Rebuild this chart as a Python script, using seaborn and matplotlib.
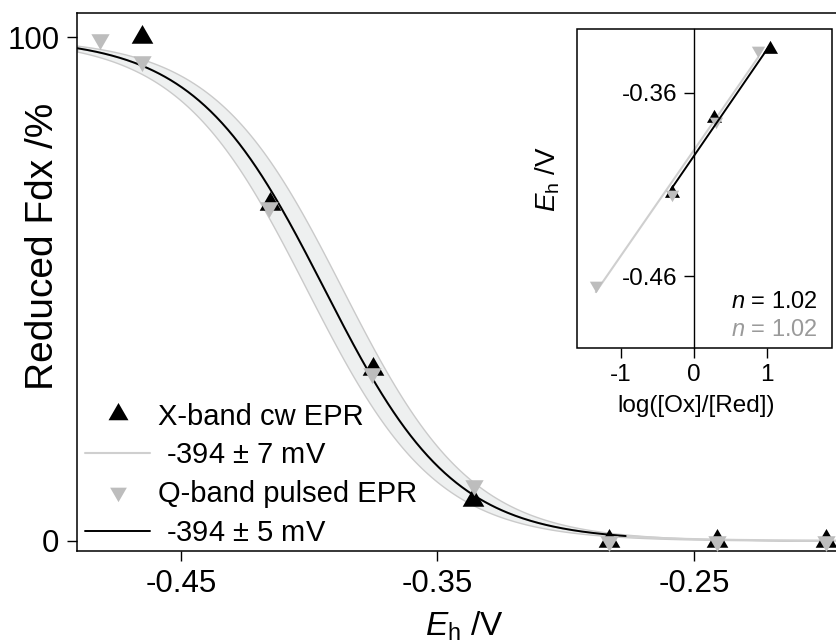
import numpy as np
import pandas as pd
import matplotlib
matplotlib.use("Agg")
import matplotlib.pyplot as plt
from matplotlib.lines import Line2D
from matplotlib.patches import Rectangle
import seaborn as sns

sns.set_style("white")
plt.rcParams["font.family"] = ["Liberation Sans", "DejaVu Sans"]
plt.rcParams["mathtext.fontset"] = "custom"
plt.rcParams["mathtext.rm"] = "Liberation Sans"
plt.rcParams["mathtext.it"] = "Liberation Sans:italic"
plt.rcParams["axes.unicode_minus"] = False
plt.rcParams["text.color"] = "black"
plt.rcParams["axes.labelcolor"] = "black"

# --- redox titration data: potential (V) vs reduced fraction (%) ---
E_xband = [-0.4652, -0.4152, -0.3752, -0.3360, -0.2830, -0.2412, -0.1985]
R_xband = [100.0, 67.0, 34.2, 8.1, 0.0, 0.0, 0.0]
E_qband = [-0.4814, -0.4650, -0.4156, -0.3754, -0.3357, -0.2830, -0.2412, -0.1985]
R_qband = [99.6, 95.3, 66.3, 33.3, 11.1, 0.0, 0.0, 0.0]

# Nernst fit parameters
E0 = -0.394          # midpoint potential (V)
dE_x = 0.007         # X-band uncertainty (V)
n_fit = 1.02
fit_labels = [" -394 $\\pm$ 7 mV", " -394 $\\pm$ 5 mV"]
series_labels = ["X-band cw EPR", "Q-band pulsed EPR"]

# --- Nernst plot (inset) ---
logr_xband = [-0.306, 0.275, 1.045]
Eh_xband = [-0.4149, -0.3740, -0.3360]
logr_qband = [-1.346, -0.300, 0.300, 0.883]
Eh_qband = [-0.4649, -0.4152, -0.3754, -0.3367]

BLACK = "#000000"
GRAY = "#bdbdbd"
LINE_GRAY = "#cfcfcf"
BAND = "#eef0f0"


def nernst(E, mid, n):
    return 100.0 / (1.0 + 10 ** ((E - mid) * n / 0.05916))


fig = plt.figure(figsize=(8.37, 6.43), dpi=100)
ax = fig.add_axes([0.0924, 0.1426, 0.9076, 0.8367])

E_grid = np.linspace(-0.4903, -0.1943, 400)
lo = nernst(E_grid, E0 - dE_x, n_fit)
hi = nernst(E_grid, E0 + dE_x, n_fit)
ax.fill_between(E_grid, lo, hi, facecolor=BAND, edgecolor="#cacaca", linewidth=1.0, zorder=1)

curve = pd.DataFrame({"E": E_grid, "R": nernst(E_grid, E0, n_fit)})
sns.lineplot(data=curve, x="E", y="R", ax=ax, color=LINE_GRAY, linewidth=1.5, zorder=2)
black_part = curve[curve["E"] <= -0.276]
sns.lineplot(data=black_part, x="E", y="R", ax=ax, color=BLACK, linewidth=1.4, zorder=3)

tri_up = (3, 0, 0)
tri_down = (3, 0, 180)
sns.scatterplot(x=E_xband, y=R_xband, ax=ax, marker=tri_up, s=324, color=BLACK,
                linewidth=0, zorder=4)
sns.scatterplot(x=E_qband, y=R_qband, ax=ax, marker=tri_down, s=231, color=GRAY,
                linewidth=0, zorder=5)

ax.set_xlim(-0.4903, -0.1943)
ax.set_ylim(-2.1, 104.8)
ax.set_xticks([-0.45, -0.35, -0.25])
ax.set_xticklabels(["-0.45", "-0.35", "-0.25"])
ax.set_yticks([0, 100])
ax.set_yticklabels(["0", "100"])
ax.tick_params(axis="both", direction="out", length=7, width=1, labelsize=22.5,
               pad=6, left=True, bottom=True, colors=BLACK)
for side in ["left", "bottom", "top"]:
    ax.spines[side].set_color(BLACK)
    ax.spines[side].set_linewidth(1.1)
ax.spines["right"].set_visible(False)

ax.set_xlabel("$\\mathit{E}_\\mathrm{h}$ /V", fontsize=24)
ax.set_ylabel("Reduced Fdx /%", fontsize=28)
ax.xaxis.set_label_coords(0.51, -0.108)
ax.yaxis.set_label_coords(-0.021, 0.567)

handles = [
    Line2D([], [], linestyle="none", marker=tri_up, markersize=16.6, color=BLACK, markeredgewidth=0),
    Line2D([], [], color=LINE_GRAY, linewidth=1.5),
    Line2D([], [], linestyle="none", marker=tri_down, markersize=13.9, color=GRAY, markeredgewidth=0),
    Line2D([], [], color=BLACK, linewidth=1.4),
]
labels = [series_labels[0], fit_labels[0], series_labels[1], fit_labels[1]]
ax.legend(handles, labels, loc="lower left", bbox_to_anchor=(0.01, 0.008),
          frameon=False, fontsize=21, handlelength=2.24, handletextpad=0.28,
          labelspacing=0.37, borderaxespad=0.0, borderpad=0.0)

# --- inset: Nernst plot ---
axi = fig.add_axes([0.6897, 0.4583, 0.3040, 0.4961])
axi.set_xlim(-1.6, 1.893)
axi.set_ylim(-0.4994, -0.3254)


def linfit(xs, ys):
    k, b = np.polyfit(xs, ys, 1)
    xx = np.array([min(xs), max(xs)])
    return pd.DataFrame({"x": xx, "y": k * xx + b})


sns.lineplot(data=linfit(logr_qband, Eh_qband), x="x", y="y", ax=axi,
             color=LINE_GRAY, linewidth=1.5, zorder=2)
sns.scatterplot(x=logr_xband, y=Eh_xband, ax=axi, marker=tri_up, s=156,
                color=BLACK, linewidth=0, zorder=3)
sns.scatterplot(x=logr_qband, y=Eh_qband, ax=axi, marker=tri_down, s=122,
                color=GRAY, linewidth=0, zorder=4)
sns.lineplot(data=linfit(logr_xband, Eh_xband), x="x", y="y", ax=axi,
             color=BLACK, linewidth=1.4, zorder=5)

axi.spines["left"].set_position(("data", 0))
for side in ["top", "right", "bottom"]:
    axi.spines[side].set_visible(False)
axi.spines["left"].set_linewidth(1.0)
axi.spines["left"].set_color(BLACK)
axi.add_patch(Rectangle((0, 0), 1, 1, transform=axi.transAxes, fill=False,
                        edgecolor=BLACK, linewidth=1.1, clip_on=False, zorder=6))
axi.set_xticks([-1, 0, 1])
axi.set_xticklabels(["-1", "0", "1"])
axi.set_yticks([-0.46, -0.36])
axi.set_yticklabels(["-0.46", "-0.36"])
axi.tick_params(axis="both", direction="out", length=7.5, width=1, labelsize=17.5,
                pad=4, left=True, bottom=True, colors=BLACK)
axi.set_xlabel("log([Ox]/[Red])", fontsize=17.5)
axi.set_ylabel("$\\mathit{E}_\\mathrm{h}$ /V", fontsize=20)
axi.yaxis.set_label_coords(-0.06, 0.53)
axi.xaxis.set_label_coords(0.467, -0.145)
axi.text(0.946, 0.146, f"$\\mathit{{n}}$ = {n_fit:.2f}", transform=axi.transAxes,
         ha="right", va="center", fontsize=17, color=BLACK)
axi.text(0.946, 0.057, f"$\\mathit{{n}}$ = {n_fit:.2f}", transform=axi.transAxes,
         ha="right", va="center", fontsize=17, color="#9a9a9a")

fig.savefig("out.png", dpi=100)
